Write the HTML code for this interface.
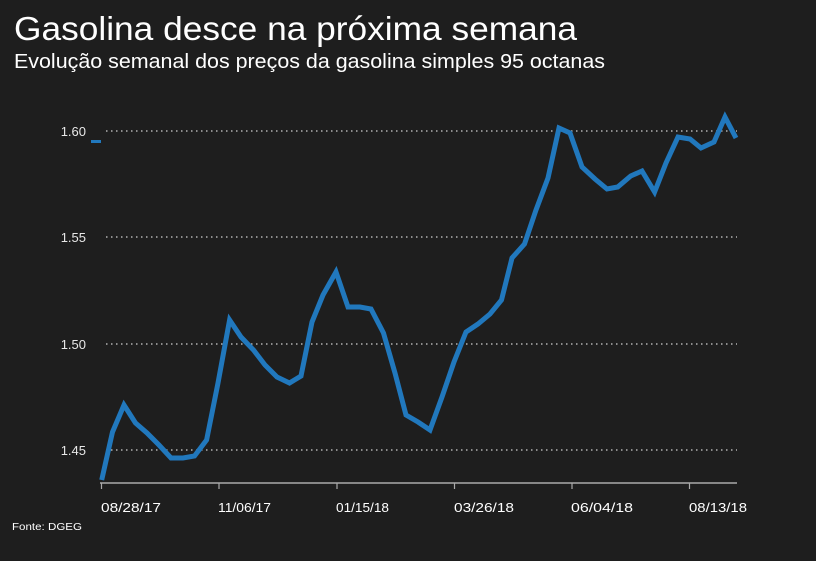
<!DOCTYPE html>
<html><head><meta charset="utf-8"><style>
body{margin:0;background:#1e1e1e;}
svg{display:block}
</style></head><body>
<svg width="816" height="561" xmlns="http://www.w3.org/2000/svg" font-family="Liberation Sans, sans-serif">
<rect width="816" height="561" fill="#1e1e1e"/>
<text x="14" y="40" fill="#fff" font-size="33" textLength="563" lengthAdjust="spacingAndGlyphs">Gasolina desce na próxima semana</text>
<text x="14" y="68" fill="#fff" font-size="20.5" textLength="591" lengthAdjust="spacingAndGlyphs">Evolução semanal dos preços da gasolina simples 95 octanas</text>
<g stroke="#d0d0d0" stroke-width="1.3" stroke-dasharray="1.5 3.5">
<line x1="106" y1="131" x2="737" y2="131"/>
<line x1="106" y1="237" x2="737" y2="237"/>
<line x1="106" y1="344" x2="737" y2="344"/>
<line x1="106" y1="450" x2="737" y2="450"/>
</g>
<g fill="#e8e8e8" font-size="13" text-anchor="end">
<text x="86" y="136">1.60</text>
<text x="86" y="242">1.55</text>
<text x="86" y="349">1.50</text>
<text x="86" y="455">1.45</text>
</g>
<rect x="91" y="140" width="10" height="3" fill="#2178bd"/>
<line x1="100" y1="483" x2="737" y2="483" stroke="#aaa" stroke-width="1.5"/>
<g stroke="#aaa" stroke-width="1.2">
<line x1="101.5" y1="483" x2="101.5" y2="489"/><line x1="219" y1="483" x2="219" y2="489"/><line x1="337" y1="483" x2="337" y2="489"/><line x1="454.5" y1="483" x2="454.5" y2="489"/><line x1="572" y1="483" x2="572" y2="489"/><line x1="689.5" y1="483" x2="689.5" y2="489"/>
</g>
<g fill="#fff" font-size="12.5">
<text x="101" y="512" textLength="60" lengthAdjust="spacingAndGlyphs">08/28/17</text><text x="218" y="512" textLength="53" lengthAdjust="spacingAndGlyphs">11/06/17</text><text x="336" y="512" textLength="53" lengthAdjust="spacingAndGlyphs">01/15/18</text><text x="454" y="512" textLength="60" lengthAdjust="spacingAndGlyphs">03/26/18</text><text x="571" y="512" textLength="62" lengthAdjust="spacingAndGlyphs">06/04/18</text><text x="689" y="512" textLength="58" lengthAdjust="spacingAndGlyphs">08/13/18</text>
</g>
<text x="12" y="530" fill="#fff" font-size="10.5" textLength="70" lengthAdjust="spacingAndGlyphs">Fonte: DGEG</text>
<polyline fill="none" stroke="#2178bd" stroke-width="5" stroke-linejoin="miter" points="101.7,480 112.5,432 124,405 135.5,423 147,433 159,445 171,458 183,458 194.5,456 206.6,440 218,383 229.6,320 241,337 253.5,350 265,365 277,377 289.5,383 301,376 312,322 323,295 336,272 348,307 360,307 371,309 383.5,333 395,373 406,415 418,422 430,430 442,397 454,362 466,332 478,324 490,314 501.5,300 512,258 524.5,244 536,210 548,178 559,128 570,133 582,167 595,179 607,189 617.7,187 630.7,176 642,171 654.6,192 666,163 678,137 690,139 701,148 714,142 725,117 736,138"/>
</svg>
</body></html>
